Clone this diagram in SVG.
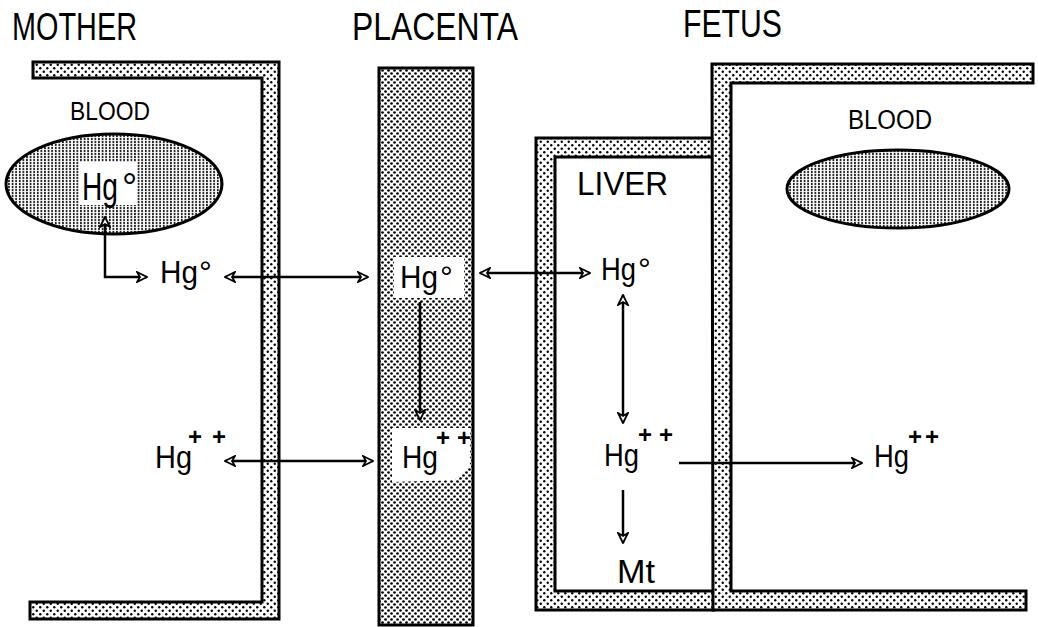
<svg xmlns="http://www.w3.org/2000/svg" width="1038" height="627" viewBox="0 0 1038 627">
<defs>
<pattern id="wallDots" width="7" height="7" patternUnits="userSpaceOnUse">
<rect width="7" height="7" fill="#fff"/>
<circle cx="1.75" cy="1.75" r="1.2" fill="#000"/>
<circle cx="5.25" cy="5.25" r="1.2" fill="#000"/>
</pattern>
<pattern id="placDots" width="6" height="6" patternUnits="userSpaceOnUse">
<rect width="6" height="6" fill="#fff"/>
<circle cx="1.5" cy="1.5" r="1.35" fill="#000"/>
<circle cx="4.5" cy="4.5" r="1.35" fill="#000"/>
</pattern>
<pattern id="bloodLines" width="3.6" height="3" patternUnits="userSpaceOnUse">
<rect width="3.6" height="3" fill="#fff"/>
<rect x="1" y="0" width="1.5" height="2.2" fill="#000"/>
</pattern>
<marker id="ah" viewBox="0 0 12 12" refX="11" refY="6" markerWidth="12" markerHeight="12" markerUnits="userSpaceOnUse" orient="auto-start-reverse">
<path d="M1,1 L11,6 L1,11 L4,6 Z" fill="#fff" stroke="#000" stroke-width="1.8" stroke-linejoin="miter"/>
</marker>
<style>
.wall{fill:url(#wallDots);stroke:#000;stroke-width:3;stroke-linejoin:miter}
.plac{fill:url(#placDots);stroke:#000;stroke-width:3}
.blood{fill:url(#bloodLines);stroke:#000;stroke-width:3}
.t{font-family:"Liberation Sans","DejaVu Sans",Arial,sans-serif;fill:#000}
.title{font-size:38px}
.lab{font-size:32px}
.sup{font-size:24px;font-weight:bold}
.conn{fill:none;stroke:#000;stroke-width:2.5}
.ko{fill:#fff}
</style>
</defs>
<rect width="1038" height="627" fill="#fff"/>

<g id="mother">
<path class="wall" d="M33,62 L279,62 L279,619 L30,619 L30,602 L262,602 L262,78 L33,78 Z"/>
<text class="t title" x="12" y="40" textLength="125" lengthAdjust="spacingAndGlyphs">MOTHER</text>
<text class="t" x="70" y="120" font-size="25" textLength="80" lengthAdjust="spacingAndGlyphs">BLOOD</text>
</g>

<g id="mother-blood">
<ellipse class="blood" cx="114" cy="184" rx="108" ry="50"/>
<rect class="ko" x="79" y="162" width="57" height="43"/>
<text class="t" x="82" y="200" font-size="38"><tspan textLength="36" lengthAdjust="spacingAndGlyphs">Hg</tspan><tspan x="122">°</tspan></text>
</g>

<g id="placenta">
<rect class="plac" x="379" y="68" width="94" height="557"/>
<text class="t title" x="352" y="40" textLength="166" lengthAdjust="spacingAndGlyphs">PLACENTA</text>
<rect class="ko" x="394" y="257" width="70" height="41"/>
<path class="ko" d="M392,428 L470,428 L470,466 L455,480 L392,482 Z"/>
</g>

<g id="liver">
<path class="wall" d="M536,138 L713,138 L713,157 L555,157 L555,591 L714,591 L714,610 L536,610 Z"/>
<text class="t" x="577" y="195" font-size="33" textLength="91" lengthAdjust="spacingAndGlyphs">LIVER</text>
</g>

<g id="fetus">
<path class="wall" d="M712,64 L1033,64 L1033,83 L731,83 L731,591 L1026,591 L1026,610 L713,610 Z"/>
<text class="t title" x="683" y="37" textLength="99" lengthAdjust="spacingAndGlyphs">FETUS</text>
<text class="t" x="848" y="129" font-size="27" textLength="84" lengthAdjust="spacingAndGlyphs">BLOOD</text>
</g>

<g id="fetus-blood">
<ellipse class="blood" cx="898" cy="189" rx="111" ry="39"/>
</g>

<g id="mother-hg0"><text class="t lab" x="160" y="283"><tspan textLength="38" lengthAdjust="spacingAndGlyphs">Hg</tspan><tspan x="199">°</tspan></text></g>
<g id="mother-hg2"><text class="t lab" x="155" y="468"><tspan textLength="37" lengthAdjust="spacingAndGlyphs">Hg</tspan><tspan class="sup" x="188 212" y="445">++</tspan></text></g>
<g id="placenta-hg0"><text class="t lab" x="400" y="288"><tspan textLength="38" lengthAdjust="spacingAndGlyphs">Hg</tspan><tspan x="440">°</tspan></text></g>
<g id="placenta-hg2"><text class="t lab" x="402" y="468"><tspan textLength="36" lengthAdjust="spacingAndGlyphs">Hg</tspan><tspan class="sup" x="436 457" y="446">++</tspan></text></g>
<g id="liver-hg0"><text class="t lab" x="601" y="280"><tspan textLength="35" lengthAdjust="spacingAndGlyphs">Hg</tspan><tspan x="638">°</tspan></text></g>
<g id="liver-hg2"><text class="t lab" x="604" y="466"><tspan textLength="35" lengthAdjust="spacingAndGlyphs">Hg</tspan><tspan class="sup" x="638 659" y="443">++</tspan></text></g>
<g id="liver-mt"><text class="t" x="617" y="583" font-size="34" textLength="38" lengthAdjust="spacingAndGlyphs">Mt</text></g>
<g id="fetus-hg2"><text class="t lab" x="874" y="467"><tspan textLength="35" lengthAdjust="spacingAndGlyphs">Hg</tspan><tspan class="sup" x="908 925" y="445">++</tspan></text></g>

<g id="connectors">
<path class="conn" d="M105,217 V277 H147" marker-start="url(#ah)" marker-end="url(#ah)"/>
<path class="conn" d="M225,277 H368" marker-start="url(#ah)" marker-end="url(#ah)"/>
<path class="conn" d="M225,461 H373" marker-start="url(#ah)" marker-end="url(#ah)"/>
<path class="conn" d="M420,302 V420" marker-end="url(#ah)"/>
<path class="conn" d="M480,273 H590" marker-start="url(#ah)" marker-end="url(#ah)"/>
<path class="conn" d="M623,295 V423" marker-start="url(#ah)" marker-end="url(#ah)"/>
<path class="conn" d="M679,463 H862" marker-end="url(#ah)"/>
<path class="conn" d="M623,490 V543" marker-end="url(#ah)"/>
</g>
</svg>
